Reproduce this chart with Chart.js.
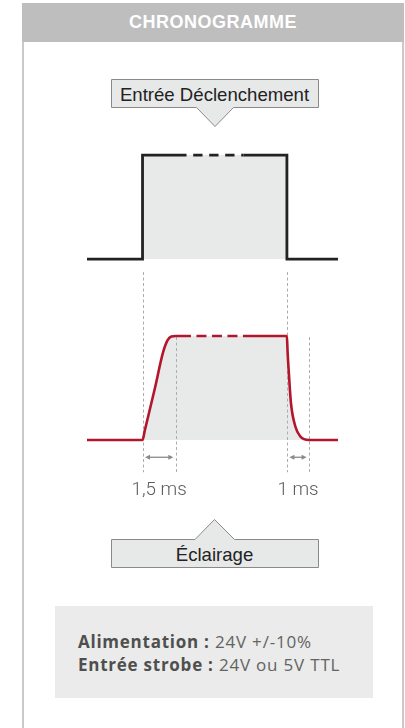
<!DOCTYPE html>
<html lang="fr">
<head>
<meta charset="utf-8">
<title>Chronogramme</title>
<script src="https://cdn.jsdelivr.net/npm/chart.js@4.4.1/dist/chart.umd.min.js"></script>
<style>
  html, body { margin: 0; padding: 0; background: #fff; }
  #page { position: relative; width: 405px; height: 728px; overflow: hidden; }
  #card { position: absolute; left: 22px; top: 3px; width: 378px; height: 740px;
          border-left: 2px solid #cacaca; border-right: 2.5px solid #cacaca; }
  #header { position: absolute; left: 22px; top: 3px; width: 382px; height: 39px; background: #bebebe;
            color: #fff; font: bold 18px "Liberation Sans", Arial, sans-serif; letter-spacing: 0.5px;
            text-align: center; line-height: 39px; }
  svg { position: absolute; left: 0; top: 0; }
  .tag { position: absolute; left: 111px; width: 207px; text-align: center; color: #222;
         font: 18.6px "Liberation Sans", Arial, sans-serif; }
  #info { position: absolute; left: 55px; top: 606px; width: 318px; height: 92px; background: #eaebea; }
  .line { position: absolute; left: 23px; font: 17px "Open Sans", sans-serif; color: #636363; letter-spacing: 0.8px; }
  .line b { color: #4f4f4f; letter-spacing: 0.75px; }
  #chrono { position: absolute; left: 0; top: 0; }
</style>
</head>
<body>
<div id="page">
  <div id="card"></div>
  <div id="header">CHRONOGRAMME</div>
  <svg width="405" height="728">
    <path d="M111.5,79.5 H318.5 V107.5 H233.5 L215,126.5 L196.5,107.5 H111.5 Z" fill="#e7e8e8" stroke="#8a8a8a" stroke-width="1"/>
    <path d="M111.5,539.5 H195 L214.5,519.5 L234.5,539.5 H318.5 V567.5 H111.5 Z" fill="#e7e8e8" stroke="#8a8a8a" stroke-width="1"/>
  </svg>
  <div class="tag" style="top:84px">Entrée Déclenchement</div>
  <div class="tag" style="top:544px">Éclairage</div>
  <div id="info">
    <div class="line" style="top:24px"><b>Alimentation :</b> 24V +/-10%</div>
    <div class="line" style="top:47px"><b>Entrée strobe :</b> 24V ou 5V TTL</div>
  </div>
  <canvas id="chrono" width="405" height="728"></canvas>
</div>

<script>
// time in ms, level 0 = off, 1 = on
var triggerT = [-2.5, 0, 0, 1.98, 4.55, 6.5, 6.5, 8.8]
var triggerV = [0, 0, 1, 1, 1, 1, 0, 0]
var triggerBreak = [1.98, 4.55]

var lightT = [-2.5, 0, 0.1, 0.57, 0.92, 1.13, 1.3, 1.5, 2.18, 4.52, 6.5, 6.53, 6.58, 6.68, 6.88, 7.1, 7.5, 8.8]
var lightV = [0, 0, 0.09, 0.51, 0.84, 0.96, 0.995, 1, 1, 1, 1, 0.85, 0.67, 0.36, 0.13, 0.035, 0, 0]
var lightBreak = [2.18, 4.52]

// rise / fall times shown under the chart
var durLabels = ['1,5 ms', '1 ms']
var durFrom = [0, 6.5]
var durTo = [1.5, 7.5]

const TRIGGER_BASE = 1.74   // trigger signal is drawn above the light signal
const FILL = '#e8e9e9'

function toPoints(ts, vs, base) {
    var pts = []
    for (var i = 0; i < ts.length; i++) {
        pts.push({x: ts[i], y: vs[i] + base})
    }
    return pts
}

function dashed(brk, dash) {
    return {
        borderDash: ctx => ctx.p0.parsed.x === brk[0] ? dash : undefined,
        borderDashOffset: ctx => ctx.p0.parsed.x === brk[0] ? dash[0] : undefined
    }
}

// dashed guides, arrows and the ms labels
const guides = {
    id: 'guides',
    beforeDatasetsDraw(chart) {
        const c = chart.ctx
        const xs = chart.scales.x, ys = chart.scales.y
        const yBottom = ys.getPixelForValue(-0.31)
        const yArrow = ys.getPixelForValue(-0.166)
        const yText = ys.getPixelForValue(-0.53)
        c.save()
        c.strokeStyle = '#adadad'
        c.lineWidth = 1
        c.setLineDash([3, 2.5])
        for (var i = 0; i < durFrom.length; i++) {
            var a = Math.round(xs.getPixelForValue(durFrom[i])) + 0.5
            var b = Math.round(xs.getPixelForValue(durTo[i])) + 0.5
            c.beginPath()
            c.moveTo(a, ys.getPixelForValue(TRIGGER_BASE - 0.125))
            c.lineTo(a, yBottom)
            c.moveTo(b, ys.getPixelForValue(0.99))
            c.lineTo(b, yBottom)
            c.stroke()
        }
        c.setLineDash([])
        c.strokeStyle = '#8a8a8a'
        c.fillStyle = '#8a8a8a'
        c.lineWidth = 1.3
        for (var i = 0; i < durFrom.length; i++) {
            var a = xs.getPixelForValue(durFrom[i]) + 2.5
            var b = xs.getPixelForValue(durTo[i]) - 2.5
            c.beginPath()
            c.moveTo(a + 3, yArrow)
            c.lineTo(b - 3, yArrow)
            c.stroke()
            c.beginPath()
            c.moveTo(a, yArrow); c.lineTo(a + 5, yArrow - 2.5); c.lineTo(a + 5, yArrow + 2.5)
            c.closePath()
            c.moveTo(b, yArrow); c.lineTo(b - 5, yArrow - 2.5); c.lineTo(b - 5, yArrow + 2.5)
            c.closePath()
            c.fill()
        }
        c.fillStyle = '#5c5c5c'
        c.font = '300 18.8px Roboto'
        c.textAlign = 'center'
        c.textBaseline = 'alphabetic'
        for (var i = 0; i < durLabels.length; i++) {
            var mid = (xs.getPixelForValue(durFrom[i]) + xs.getPixelForValue(durTo[i])) / 2
            c.fillText(durLabels[i], mid, yText)
        }
        c.restore()
    }
}

var chrono = new Chart(document.getElementById('chrono'), {
    type: 'line',
    data: {
        datasets: [{
            // grey areas, drawn without segment styles so they have no seams
            label: 'fill trigger',
            data: toPoints(triggerT, triggerV, TRIGGER_BASE),
            borderWidth: 0,
            backgroundColor: FILL,
            fill: {value: TRIGGER_BASE},
            tension: 0
        }, {
            label: 'fill light',
            data: toPoints(lightT, lightV, 0),
            borderWidth: 0,
            backgroundColor: FILL,
            fill: {value: 0},
            cubicInterpolationMode: 'monotone'
        }, {
            label: 'Entrée Déclenchement',
            data: toPoints(triggerT, triggerV, TRIGGER_BASE),
            borderColor: '#222222',
            borderWidth: 2.8,
            borderJoinStyle: 'miter',
            fill: false,
            tension: 0,
            segment: dashed(triggerBreak, [9.3, 6.7])
        }, {
            label: 'Éclairage',
            data: toPoints(lightT, lightV, 0),
            borderColor: '#b3162c',
            borderWidth: 2.6,
            fill: false,
            cubicInterpolationMode: 'monotone',
            segment: dashed(lightBreak, [10, 5.5])
        }]
    },
    options: {
        responsive: false,
        animation: false,
        layout: {padding: {left: 87, right: 67, top: 102, bottom: 236}},
        elements: {point: {radius: 0}},
        scales: {
            x: {type: 'linear', min: -2.5, max: 8.8, display: false},
            y: {min: -0.5, max: 3.25, display: false}
        },
        plugins: {
            legend: {display: false},
            tooltip: {enabled: false},
            filler: {drawTime: 'beforeDatasetsDraw'}
        }
    },
    plugins: [guides]
})
</script>
</body>
</html>
